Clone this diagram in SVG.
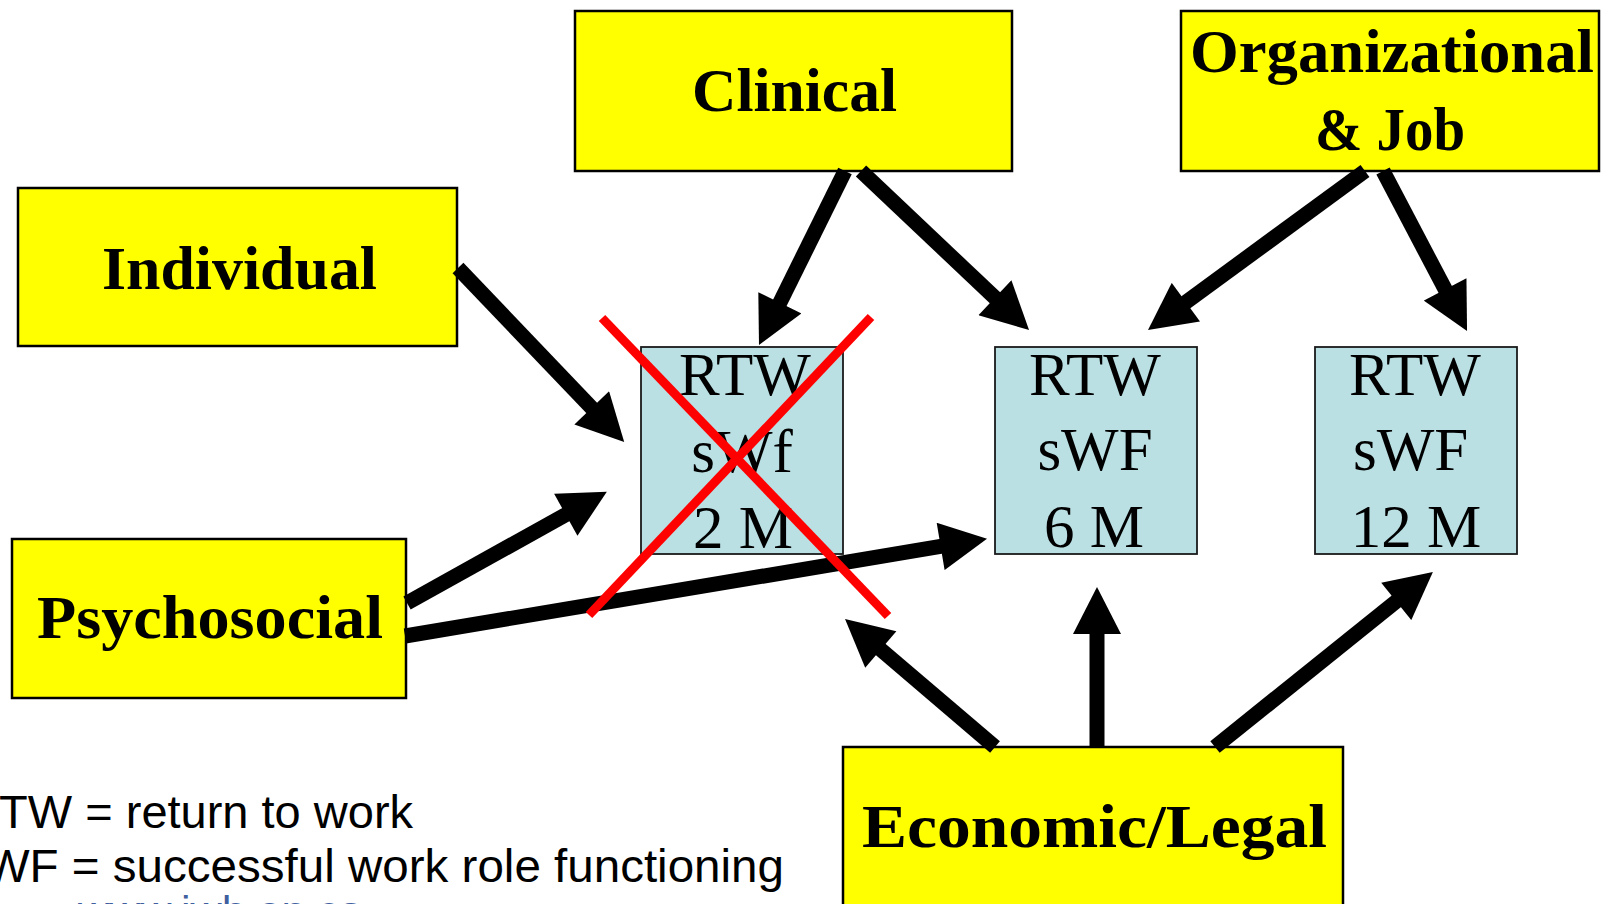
<svg xmlns="http://www.w3.org/2000/svg" width="1601" height="904" viewBox="0 0 1601 904">
<style>
.cat{fill:#ffff00;stroke:#000;stroke-width:2.5}
.out{fill:#bae0e4;stroke:#1a1a1a;stroke-width:1.8}
.lbl{font-family:"Liberation Serif",serif;font-weight:bold;font-size:62px;fill:#000}
.rtw{font-family:"Liberation Serif",serif;font-size:61px;fill:#000;text-anchor:middle}
.leg{font-family:"Liberation Sans",Arial,sans-serif;font-size:47px;fill:#000}
.arr{stroke:#000;stroke-width:15;fill:none;marker-end:url(#ah)}
.x{stroke:#ff0000;stroke-width:9}
</style>
<defs>
<marker id="ah" markerUnits="userSpaceOnUse" markerWidth="48" markerHeight="48" viewBox="0 0 47 48" refX="3" refY="24" orient="auto">
<path d="M0,0 L47,24 L0,48 Z" fill="#000"/>
</marker>
</defs>
<rect width="1601" height="904" fill="#fff"/>

<g id="clinical">
<rect class="cat" x="575" y="11" width="437" height="160"/>
<text class="lbl" x="692" y="111" textLength="205" lengthAdjust="spacingAndGlyphs">Clinical</text>
</g>
<g id="organizational">
<rect class="cat" x="1181" y="11" width="418" height="160"/>
<text class="lbl" x="1190" y="72" textLength="404" lengthAdjust="spacingAndGlyphs">Organizational</text>
<text class="lbl" x="1315" y="150" textLength="150" lengthAdjust="spacingAndGlyphs">&amp; Job</text>
</g>
<g id="individual">
<rect class="cat" x="18" y="188" width="439" height="158"/>
<text class="lbl" x="102" y="289" textLength="275" lengthAdjust="spacingAndGlyphs">Individual</text>
</g>
<g id="psychosocial">
<rect class="cat" x="12" y="539" width="394" height="159"/>
<text class="lbl" x="37" y="638" textLength="346" lengthAdjust="spacingAndGlyphs">Psychosocial</text>
</g>
<g id="economic">
<rect class="cat" x="843" y="747" width="500" height="170"/>
<text class="lbl" x="862" y="847" textLength="465" lengthAdjust="spacingAndGlyphs">Economic/Legal</text>
</g>

<g id="out2m">
<rect class="out" x="641" y="347" width="202" height="207"/>
<text class="rtw" x="745" y="395">RTW</text>
<text class="rtw" x="742" y="472">sWf</text>
<text class="rtw" x="743" y="548">2 M</text>
</g>
<g id="out6m">
<rect class="out" x="995" y="347" width="202" height="207"/>
<text class="rtw" x="1095" y="395">RTW</text>
<text class="rtw" x="1095" y="470">sWF</text>
<text class="rtw" x="1094" y="547">6 M</text>
</g>
<g id="out12m">
<rect class="out" x="1315" y="347" width="202" height="207"/>
<text class="rtw" x="1415" y="395">RTW</text>
<text class="rtw" x="1353" y="470" style="text-anchor:start">sWF</text>
<text class="rtw" x="1416" y="547">12 M</text>
</g>

<g id="connectors">
<line class="arr" x1="458" y1="268" x2="593.8" y2="410.1"/>
<line class="arr" x1="407" y1="603" x2="568.4" y2="513.2"/>
<line class="arr" x1="405" y1="636" x2="943.6" y2="545.9"/>
<line class="arr" x1="845" y1="171" x2="778.5" y2="305.5"/>
<line class="arr" x1="861" y1="171" x2="997.1" y2="299.8"/>
<line class="arr" x1="1365" y1="171" x2="1183.5" y2="304"/>
<line class="arr" x1="1383" y1="171" x2="1446.6" y2="292.1"/>
<line class="arr" x1="995" y1="747" x2="878.5" y2="647.6"/>
<line class="arr" x1="1097" y1="747" x2="1097" y2="631"/>
<line class="arr" x1="1215" y1="747" x2="1398.6" y2="599.5"/>
</g>

<g id="cross">
<line class="x" x1="602" y1="318" x2="888" y2="616"/>
<line class="x" x1="871" y1="317" x2="589" y2="615"/>
</g>

<g id="legend">
<text class="leg" x="-34" y="828">RTW = return to work</text>
<text class="leg" x="-47" y="882" textLength="831" lengthAdjust="spacingAndGlyphs">SWF = successful work role functioning</text>
<text x="78" y="925" font-family="Liberation Sans, Arial, sans-serif" font-size="40" fill="#3f5f9f" textLength="285" lengthAdjust="spacingAndGlyphs">www.iwh.on.ca</text>
</g>
</svg>
